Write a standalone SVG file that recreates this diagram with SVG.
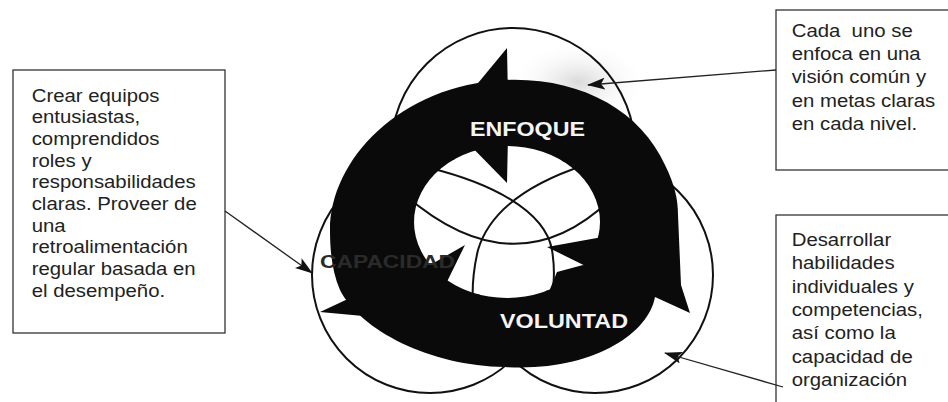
<svg xmlns="http://www.w3.org/2000/svg" width="948" height="402" viewBox="0 0 948 402">
  <defs>
    <style>
      .circ { fill: none; stroke: #111; stroke-width: 2; }
      .arc { fill: none; stroke: #111; stroke-width: 2; }
      .ink { fill: #0a0a0a; }
      .box { fill: #fff; stroke: #333; stroke-width: 1.3; }
      .txt { font-family: "Liberation Sans", Arial, sans-serif; font-size: 18.5px; fill: #222; white-space: pre; }
      .ring { font-family: "Liberation Sans", Arial, sans-serif; font-weight: bold; font-size: 21px; fill: #f4f4f4; }
      .conn { fill: none; stroke: #222; stroke-width: 1.3; }
    </style>
    <marker id="ah" markerUnits="userSpaceOnUse" markerWidth="18" markerHeight="12" refX="17" refY="6" orient="auto">
      <path d="M0,0 L18,6 L0,12 L4,6 Z" fill="#111"/>
    </marker>
    <radialGradient id="shade" cx="0.5" cy="0.5" r="0.5">
      <stop offset="0" stop-color="#d9d9d9"/>
      <stop offset="1" stop-color="#ffffff" stop-opacity="0"/>
    </radialGradient>
  </defs>

  <rect width="948" height="402" fill="#fff"/>

  <!-- text boxes -->
  <g id="box-left">
    <rect class="box" x="13" y="70" width="212" height="263"/>
    <g transform="matrix(1.1 0 0 1 -3.17 0)">
      <text class="txt" x="31.7" y="101.7">Crear equipos</text>
      <text class="txt" x="31.7" y="123.3">entusiastas,</text>
      <text class="txt" x="31.7" y="145">comprendidos</text>
      <text class="txt" x="31.7" y="166.7">roles y</text>
      <text class="txt" x="31.7" y="188.3">responsabilidades</text>
      <text class="txt" x="31.7" y="210">claras. Proveer de</text>
      <text class="txt" x="31.7" y="231.7">una</text>
      <text class="txt" x="31.7" y="253.3">retroalimentación</text>
      <text class="txt" x="31.7" y="275">regular basada en</text>
      <text class="txt" x="31.7" y="296.7">el desempeño.</text>
    </g>
  </g>

  <g id="box-top-right">
    <rect class="box" x="776" y="10" width="190" height="160"/>
    <g transform="matrix(1.1 0 0 1 -79.17 0)">
      <text class="txt" x="791.7" y="36.7">Cada  uno se</text>
      <text class="txt" x="791.7" y="60">enfoca en una</text>
      <text class="txt" x="791.7" y="83.3">visión común y</text>
      <text class="txt" x="791.7" y="106.7">en metas claras</text>
      <text class="txt" x="791.7" y="130">en cada nivel.</text>
    </g>
  </g>

  <g id="box-bottom-right">
    <rect class="box" x="776" y="215" width="190" height="200"/>
    <g transform="matrix(1.1 0 0 1 -79.17 0)">
      <text class="txt" x="791.7" y="246">Desarrollar</text>
      <text class="txt" x="791.7" y="269.3">habilidades</text>
      <text class="txt" x="791.7" y="292.7">individuales y</text>
      <text class="txt" x="791.7" y="316">competencias,</text>
      <text class="txt" x="791.7" y="339.3">así como la</text>
      <text class="txt" x="791.7" y="362.7">capacidad de</text>
      <text class="txt" x="791.7" y="386">organización</text>
    </g>
  </g>

  <!-- central cycle figure -->
  <g id="cycle">
    <ellipse cx="578" cy="82" rx="70" ry="42" fill="url(#shade)"/>
    <circle class="circ" cx="513" cy="150" r="122"/>
    <circle class="circ" cx="430" cy="275" r="118"/>
    <circle class="circ" cx="595" cy="275" r="118"/>
    <ellipse cx="507" cy="222" rx="93" ry="76" fill="#fff"/>
    <path class="arc" d="M405,195 Q515,290 610,200"/>
    <path class="arc" d="M430,168 C490,183 545,210 552,250 C556,275 553,290 550,305"/>
    <path class="arc" d="M585,165 C530,183 490,210 478,250 C472,275 472,290 473,305"/>
    <path class="ink" fill-rule="evenodd" d="M330,230 C330,160 400,85 505,80 C580,77 640,110 665,165 C675,185 678,200 678,215 L681,285 L690,313 L655,297 C648,335 590,372 505,367 C430,366 360,330 340,290 C332,272 330,250 330,230 Z M414,222 A93,76 0 1,0 600,222 A93,76 0 1,0 414,222 Z"/>
    <polygon class="ink" points="507,48 508,100 464,100"/>
    <polygon class="ink" points="507,183 508,135 460,135"/>
    <polygon class="ink" points="320,312 365,291 385,318"/>
    <polygon class="ink" points="465,245 418,272 440,296"/>
    <polygon class="ink" points="547,247 620,283 608,236"/>
    <polygon class="ink" points="583,265 557,272 548,294 562,300 600,282"/>
    <text class="ring" x="470" y="136" textLength="115" lengthAdjust="spacingAndGlyphs">ENFOQUE</text>
    <text class="ring" x="500" y="328" textLength="128" lengthAdjust="spacingAndGlyphs">VOLUNTAD</text>
    <text x="320" y="268" textLength="135" lengthAdjust="spacingAndGlyphs" font-family="Liberation Sans, Arial, sans-serif" font-weight="bold" font-size="19" fill="#2a2a2a">CAPACIDAD</text>
  </g>

  <!-- connectors -->
  <g id="connectors">
    <line class="conn" x1="776" y1="70" x2="588" y2="85" marker-end="url(#ah)"/>
    <line class="conn" x1="225" y1="211" x2="312" y2="273" marker-end="url(#ah)"/>
    <line class="conn" x1="783" y1="387" x2="665" y2="353" marker-end="url(#ah)"/>
  </g>
</svg>
